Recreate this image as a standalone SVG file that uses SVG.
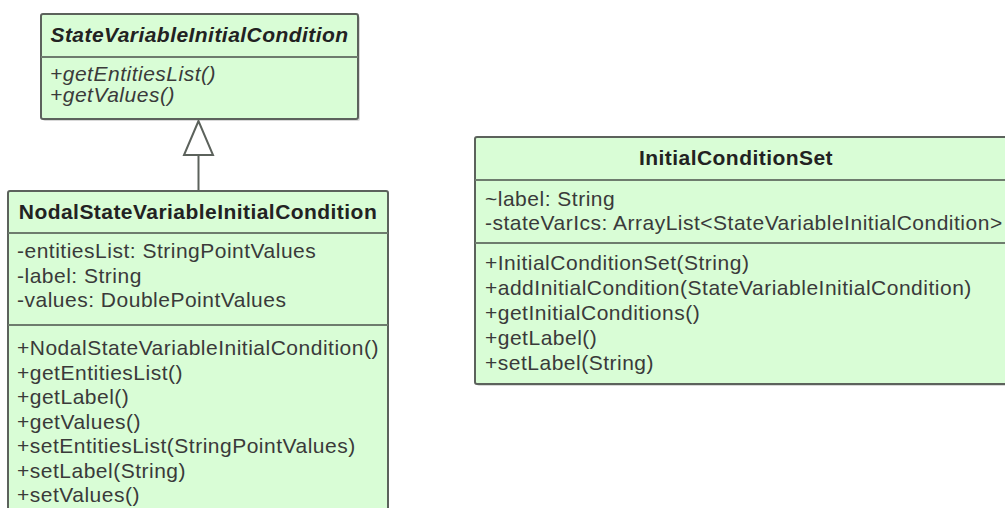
<svg xmlns="http://www.w3.org/2000/svg" width="1005" height="508" viewBox="0 0 1005 508">
  <style>
    .box { fill: #d9fdd6; stroke: #5c625c; stroke-width: 2; }
    .shadow { fill: #d8d8d8; }
    .sep { stroke: #6e7c6e; stroke-width: 2; }
    .title { font-family: "Liberation Sans", Arial, sans-serif; font-size: 21px; font-weight: bold; fill: #222; letter-spacing: 0.45px; text-anchor: middle; }
    .abstract { font-style: italic; }
    .member { font-family: "Liberation Sans", Arial, sans-serif; font-size: 21px; fill: #3a3a3a; letter-spacing: 0.5px; }
    .edge { stroke: #5c625c; stroke-width: 2; fill: none; }
    .head { fill: #ffffff; stroke: #5c625c; stroke-width: 2; stroke-linejoin: miter; }
  </style>
  <rect width="1005" height="508" fill="#ffffff"/>

  <!-- abstract base class -->
  <g id="StateVariableInitialCondition">
    <rect class="shadow" x="43" y="16" width="317" height="105" rx="2"/>
    <rect class="box" x="41" y="14" width="317" height="105" rx="2"/>
    <line class="sep" x1="41" y1="57" x2="358" y2="57"/>
    <text class="title abstract" x="199.5" y="42">StateVariableInitialCondition</text>
    <text class="member abstract" x="50" y="81">+getEntitiesList()</text>
    <text class="member abstract" x="50" y="102">+getValues()</text>
  </g>

  <!-- concrete subclass -->
  <g id="NodalStateVariableInitialCondition">
    <rect class="box" x="8" y="191" width="380" height="330" rx="2"/>
    <line class="sep" x1="8" y1="233" x2="388" y2="233"/>
    <line class="sep" x1="8" y1="325" x2="388" y2="325"/>
    <text class="title" x="198" y="219">NodalStateVariableInitialCondition</text>
    <text class="member" x="17" y="258">-entitiesList: StringPointValues</text>
    <text class="member" x="17" y="282.5">-label: String</text>
    <text class="member" x="17" y="307">-values: DoublePointValues</text>
    <text class="member" x="17" y="355">+NodalStateVariableInitialCondition()</text>
    <text class="member" x="17" y="379.5">+getEntitiesList()</text>
    <text class="member" x="17" y="404">+getLabel()</text>
    <text class="member" x="17" y="428.5">+getValues()</text>
    <text class="member" x="17" y="453">+setEntitiesList(StringPointValues)</text>
    <text class="member" x="17" y="477.5">+setLabel(String)</text>
    <text class="member" x="17" y="502">+setValues()</text>
  </g>

  <!-- container class -->
  <g id="InitialConditionSet">
    <rect class="shadow" x="477" y="139" width="545" height="247" rx="2"/>
    <rect class="box" x="475" y="137" width="545" height="247" rx="2"/>
    <line class="sep" x1="475" y1="180" x2="1020" y2="180"/>
    <line class="sep" x1="475" y1="243" x2="1020" y2="243"/>
    <text class="title" x="736" y="165">InitialConditionSet</text>
    <text class="member" x="485" y="206">~label: String</text>
    <text class="member" x="485" y="230">-stateVarIcs: ArrayList&lt;StateVariableInitialCondition&gt;</text>
    <text class="member" x="485" y="270">+InitialConditionSet(String)</text>
    <text class="member" x="485" y="295">+addInitialCondition(StateVariableInitialCondition)</text>
    <text class="member" x="485" y="320">+getInitialConditions()</text>
    <text class="member" x="485" y="345">+getLabel()</text>
    <text class="member" x="485" y="370">+setLabel(String)</text>
  </g>

  <!-- generalization -->
  <g id="connectors">
    <line class="edge" x1="198.5" y1="155" x2="198.5" y2="191"/>
    <polygon class="head" points="198.5,121 184,155 213,155"/>
  </g>
</svg>
